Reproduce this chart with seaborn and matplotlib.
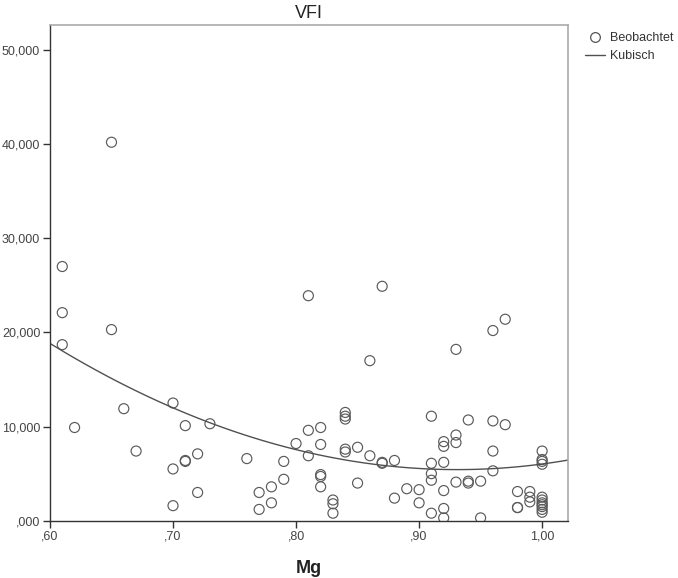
import numpy as np
import pandas as pd
import matplotlib
matplotlib.use("Agg")
import matplotlib.pyplot as plt
from matplotlib.lines import Line2D
import seaborn as sns

mg = [0.61, 0.61, 0.61, 0.62, 0.65, 0.65, 0.66, 0.67,
      0.70, 0.70, 0.70, 0.71, 0.71, 0.71, 0.72, 0.72, 0.73,
      0.76, 0.77, 0.77, 0.78, 0.78, 0.79, 0.79, 0.80,
      0.81, 0.81, 0.81, 0.82, 0.82, 0.82, 0.82, 0.82, 0.83, 0.83, 0.83,
      0.84, 0.84, 0.84, 0.84, 0.84, 0.85, 0.85, 0.86, 0.86, 0.87, 0.87, 0.87,
      0.88, 0.88, 0.89, 0.90, 0.90,
      0.91, 0.91, 0.91, 0.91, 0.91,
      0.92, 0.92, 0.92, 0.92, 0.92, 0.92,
      0.93, 0.93, 0.93, 0.93, 0.94, 0.94, 0.94, 0.95, 0.95,
      0.96, 0.96, 0.96, 0.96, 0.97, 0.97,
      0.98, 0.98, 0.98, 0.99, 0.99, 0.99,
      1.00, 1.00, 1.00, 1.00, 1.00, 1.00, 1.00, 1.00, 1.00, 1.00, 1.00]
vfi = [27000, 22100, 18700, 9900, 40200, 20300, 11900, 7400,
       12500, 5500, 1600, 10100, 6400, 6300, 7100, 3000, 10300,
       6600, 3000, 1200, 3600, 1900, 6300, 4400, 8200,
       23900, 9600, 6900, 9900, 8100, 4900, 4700, 3600, 2200, 1800, 800,
       11500, 11100, 10800, 7600, 7300, 7800, 4000, 17000, 6900, 24900, 6100, 6200,
       6400, 2400, 3400, 3300, 1900,
       11100, 6100, 5000, 4300, 800,
       8400, 7900, 6200, 3200, 1300, 300,
       18200, 9100, 8300, 4100, 10700, 4200, 4000, 4200, 300,
       20200, 10600, 7400, 5300, 21400, 10200,
       3100, 1400, 1400, 3100, 2500, 2000,
       7400, 6500, 6300, 6000, 2500, 2200, 1900, 1700, 1500, 1200, 900]

# points on the "Kubisch" curve
curve_mg = [0.60, 0.70, 0.73, 0.80, 0.84, 0.89, 0.94, 1.00, 1.02]
curve_vfi = [18840, 12000, 10350, 7600, 6500, 5600, 5390, 6100, 6380]

df = pd.DataFrame({"Mg": mg, "VFI": vfi})
curve = pd.DataFrame({"Mg": curve_mg, "VFI": curve_vfi})

x_ticks = [0.60, 0.70, 0.80, 0.90, 1.00]
x_labels = [",60", ",70", ",80", ",90", "1,00"]
y_ticks = [0, 10000, 20000, 30000, 40000, 50000]
y_labels = [",000", "10,000", "20,000", "30,000", "40,000", "50,000"]

sns.set_style("white")
plt.rcParams["font.family"] = ["Liberation Sans", "DejaVu Sans"]

fig = plt.figure(figsize=(6.78, 5.78), dpi=100)
ax = fig.add_axes([0.0737, 0.0991, 0.7640, 0.8576])
ax.set_xlim(0.60, 1.021)
ax.set_ylim(0, 52650)

sns.scatterplot(data=df, x="Mg", y="VFI", ax=ax, marker="o", s=52,
                facecolor="none", edgecolor="#5a5a5a", linewidth=0.85)
# cubic curve across the full x range
sns.regplot(data=curve, x="Mg", y="VFI", ax=ax, order=3, ci=None, scatter=False,
            truncate=False, line_kws={"color": "#505050", "linewidth": 1.0})

ax.set_xticks(x_ticks)
ax.set_xticklabels(x_labels)
ax.set_yticks(y_ticks)
ax.set_yticklabels(y_labels)
ax.tick_params(axis="both", direction="out", length=5, width=1, color="#333333",
               labelsize=9, labelcolor="#444444", pad=2,
               bottom=True, left=True)

for s in ["left", "bottom"]:
    ax.spines[s].set_color("#333333")
    ax.spines[s].set_linewidth(1.0)
for s in ["top", "right"]:
    ax.spines[s].set_color("#aaaaaa")
    ax.spines[s].set_linewidth(1.2)

ax.set_title("VFI", fontsize=13, color="#222222", pad=5)
ax.set_xlabel("Mg", fontsize=13, fontweight="bold", color="#222222", labelpad=13)
ax.set_ylabel("")

handles = [
    Line2D([], [], marker="o", linestyle="none", markerfacecolor="none",
           markeredgecolor="#555555", markersize=7, markeredgewidth=0.9),
    Line2D([], [], color="#505050", linewidth=1.0),
]
ax.legend(handles, ["Beobachtet", "Kubisch"], loc="upper left",
          bbox_to_anchor=(1.012, 1.008), frameon=False, fontsize=9,
          handlelength=1.6, handletextpad=0.35, labelspacing=0.45,
          labelcolor="#333333")

fig.savefig("out.png", dpi=100)
